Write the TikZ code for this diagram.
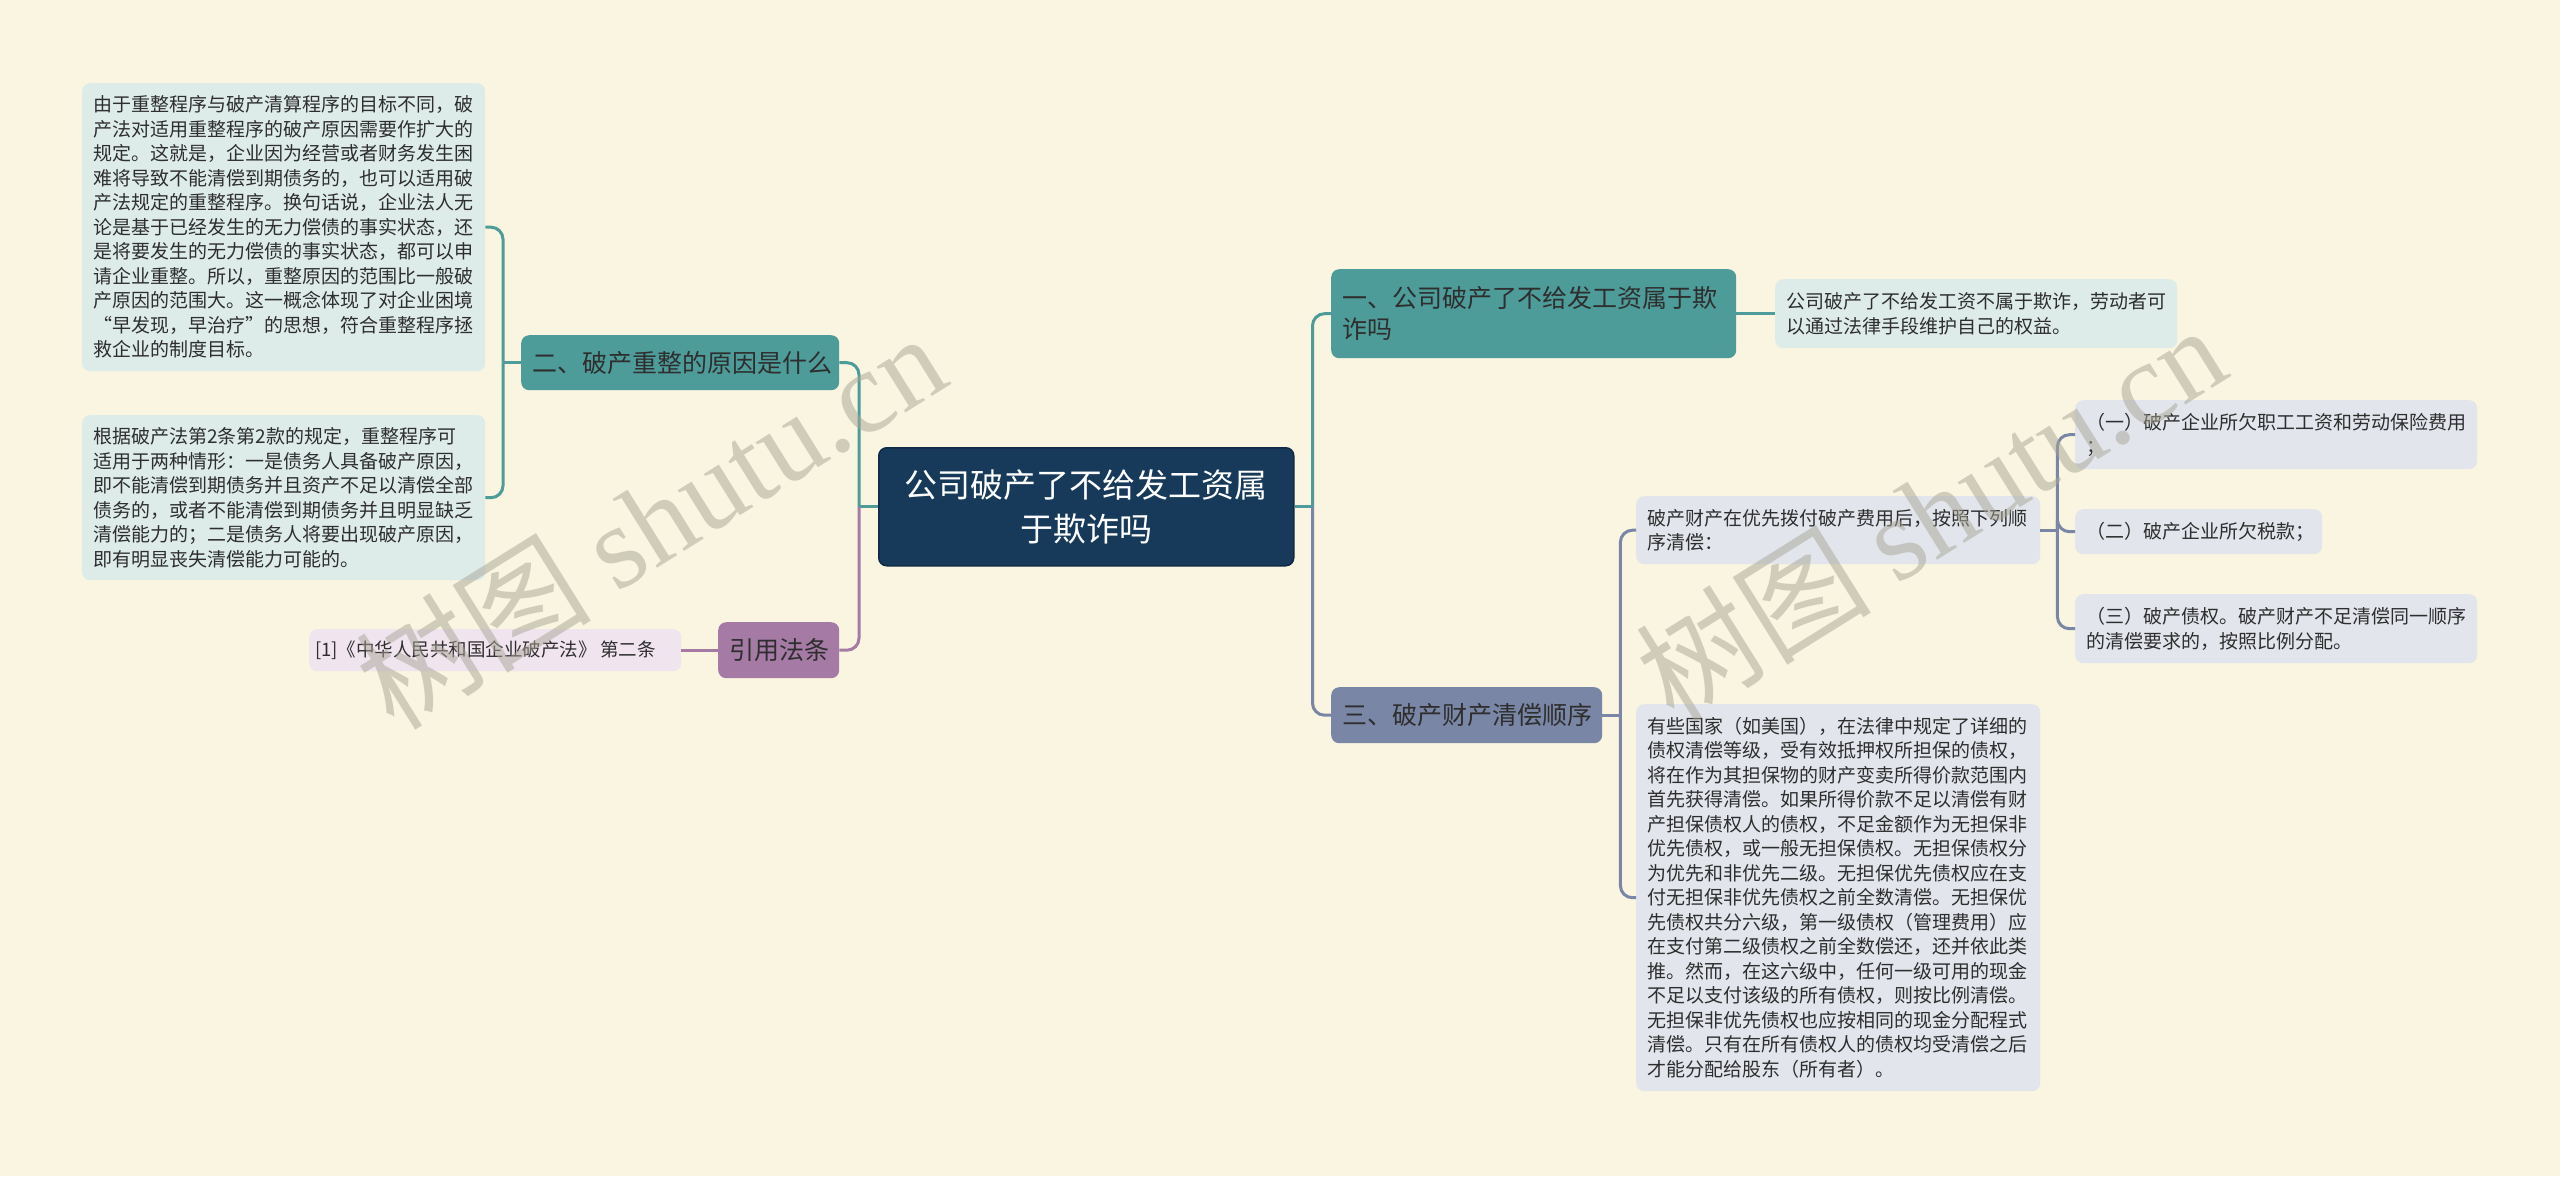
\documentclass[tikz,border=0pt]{standalone}
\usepackage{fontspec}
\setmainfont{Noto Sans CJK SC}
\newfontfamily\wmlatin{Liberation Serif}
\usetikzlibrary{calc}
\definecolor{bg}{HTML}{FAF5E0}
\definecolor{rootfill}{HTML}{173A5A}
\definecolor{rootdraw}{HTML}{0E2A45}
\definecolor{teal}{HTML}{4E9C9A}
\definecolor{slate}{HTML}{7A86A6}
\definecolor{purp}{HTML}{A57BA6}
\definecolor{leafteal}{HTML}{DDEBE9}
\definecolor{leafslate}{HTML}{E2E5EC}
\definecolor{leafpurp}{HTML}{F0E4EF}
\definecolor{txt}{HTML}{2E2E2E}
\definecolor{wm}{HTML}{A8A596}
\tikzset{
  box/.style={rounded corners=8pt, anchor=north west, align=left, inner xsep=11pt, inner ysep=6pt},
  rootbox/.style={box, fill=rootfill, draw=rootdraw, line width=1.5pt, align=center, text=white, font=\fontsize{33}{44}\selectfont},
  branch/.style={box, text=txt, font=\fontsize{25}{31}\selectfont},
  leaf/.style={box, text=txt, font=\fontsize{19}{24.5}\selectfont},
  link/.style={line width=3pt, rounded corners=12pt},
  wmark/.style={rotate=32, text=wm, opacity=0.5, font=\fontsize{118}{118}\selectfont}
}
\begin{document}
\begin{tikzpicture}[x=1pt,y=-1pt]
\fill[bg] (0,0) rectangle (2560,1176);
\useasboundingbox (0,0) rectangle (2560,1176);

% root
\node[rootbox, minimum width=415pt, minimum height=118pt, text width=393pt] (root) at (878,447) {公司破产了不给发工资属\\于欺诈吗};

% right side
\node[branch, fill=teal, minimum width=405pt, minimum height=89pt, text width=383pt] (b1) at (1331,269) {一、公司破产了不给发工资属于欺\\诈吗};
\node[leaf, fill=leafteal, minimum width=402pt, minimum height=69pt, text width=380pt] (l1) at (1775,279) {公司破产了不给发工资不属于欺诈，劳动者可\\以通过法律手段维护自己的权益。};

\node[branch, fill=slate, minimum width=271pt, minimum height=56pt, text width=249pt] (b3) at (1331,687) {三、破产财产清偿顺序};
\node[leaf, fill=leafslate, minimum width=404pt, minimum height=68pt, text width=382pt] (s3a) at (1636,496) {破产财产在优先拨付破产费用后，按照下列顺\\序清偿：};
\node[leaf, fill=leafslate, minimum width=402pt, minimum height=69pt, text width=380pt] (i1) at (2075,400) {（一）破产企业所欠职工工资和劳动保险费用\\；};
\node[leaf, fill=leafslate, minimum width=247pt, minimum height=45pt, text width=225pt] (i2) at (2075,509) {（二）破产企业所欠税款；};
\node[leaf, fill=leafslate, minimum width=402pt, minimum height=69pt, text width=380pt] (i3) at (2075,594) {（三）破产债权。破产财产不足清偿同一顺序\\的清偿要求的，按照比例分配。};
\node[leaf, fill=leafslate, minimum width=404pt, minimum height=387pt, text width=382pt] (s3b) at (1636,704) {有些国家（如美国），在法律中规定了详细的\\债权清偿等级，受有效抵押权所担保的债权，\\将在作为其担保物的财产变卖所得价款范围内\\首先获得清偿。如果所得价款不足以清偿有财\\产担保债权人的债权，不足金额作为无担保非\\优先债权，或一般无担保债权。无担保债权分\\为优先和非优先二级。无担保优先债权应在支\\付无担保非优先债权之前全数清偿。无担保优\\先债权共分六级，第一级债权（管理费用）应\\在支付第二级债权之前全数偿还，还并依此类\\推。然而，在这六级中，任何一级可用的现金\\不足以支付该级的所有债权，则按比例清偿。\\无担保非优先债权也应按相同的现金分配程式\\清偿。只有在所有债权人的债权均受清偿之后\\才能分配给股东（所有者）。};

% left side
\node[branch, fill=teal, minimum width=318pt, minimum height=55pt, text width=296pt] (b2) at (521,335) {二、破产重整的原因是什么};
\node[leaf, fill=leafteal, minimum width=403pt, minimum height=288pt, text width=381pt] (l2a) at (82,83) {由于重整程序与破产清算程序的目标不同，破\\产法对适用重整程序的破产原因需要作扩大的\\规定。这就是，企业因为经营或者财务发生困\\难将导致不能清偿到期债务的，也可以适用破\\产法规定的重整程序。换句话说，企业法人无\\论是基于已经发生的无力偿债的事实状态，还\\是将要发生的无力偿债的事实状态，都可以申\\请企业重整。所以，重整原因的范围比一般破\\产原因的范围大。这一概念体现了对企业困境\\“早发现，早治疗”的思想，符合重整程序拯\\救企业的制度目标。};
\node[leaf, fill=leafteal, minimum width=403pt, minimum height=165pt, text width=381pt] (l2b) at (82,415) {根据破产法第2条第2款的规定，重整程序可\\适用于两种情形：一是债务人具备破产原因，\\即不能清偿到期债务并且资产不足以清偿全部\\债务的，或者不能清偿到期债务并且明显缺乏\\清偿能力的；二是债务人将要出现破产原因，\\即有明显丧失清偿能力可能的。};

\node[branch, fill=purp, minimum width=121pt, minimum height=56pt, text width=99pt] (bref) at (718,622) {引用法条};
\node[leaf, fill=leafpurp, minimum width=372pt, minimum height=42pt, inner xsep=6pt, text width=360pt, font=\fontsize{18.5}{24}\selectfont] (lref) at (309,629) {[1]《中华人民共和国企业破产法》\,第二条};

% connectors right of root
\draw[line width=3pt, teal] (root.east) -- ++(18,0);
\draw[link, teal] ($(root.east)+(18,0)$) |- (b1.west);
\draw[link, slate] ($(root.east)+(18,0)$) |- (b3.west);
\draw[link, teal] (b1.east) -- (l1.west);
\draw[line width=3pt, slate] (b3.east) -- ++(18,0);
\draw[link, slate] ($(b3.east)+(18,0)$) |- (s3a.west);
\draw[link, slate] ($(b3.east)+(18,0)$) |- (s3b.west);
\draw[line width=3pt, slate] (s3a.east) -- ++(17,0);
\draw[link, slate] ($(s3a.east)+(17,0)$) |- (i1.west);
\draw[link, slate] ($(s3a.east)+(17,0)$) |- (i2.west);
\draw[link, slate] ($(s3a.east)+(17,0)$) |- (i3.west);

% connectors left of root
\draw[line width=3pt, teal] (root.west) -- ++(-19,0);
\draw[link, teal] ($(root.west)+(-19,0)$) |- (b2.east);
\draw[link, purp] ($(root.west)+(-19,0)$) |- (bref.east);
\draw[line width=3pt, teal] (b2.west) -- ++(-18,0);
\draw[link, teal] ($(b2.west)+(-18,0)$) |- (l2a.east);
\draw[link, teal] ($(b2.west)+(-18,0)$) |- (l2b.east);
\draw[line width=3pt, purp] (bref.west) -- (lref.east);

% watermarks
\node[wmark] (wm1) at (650,520) {树图 {\wmlatin shutu.cn}};
\node[wmark] (wm2) at (1930,512) {树图 {\wmlatin shutu.cn}};
\end{tikzpicture}
\end{document}
